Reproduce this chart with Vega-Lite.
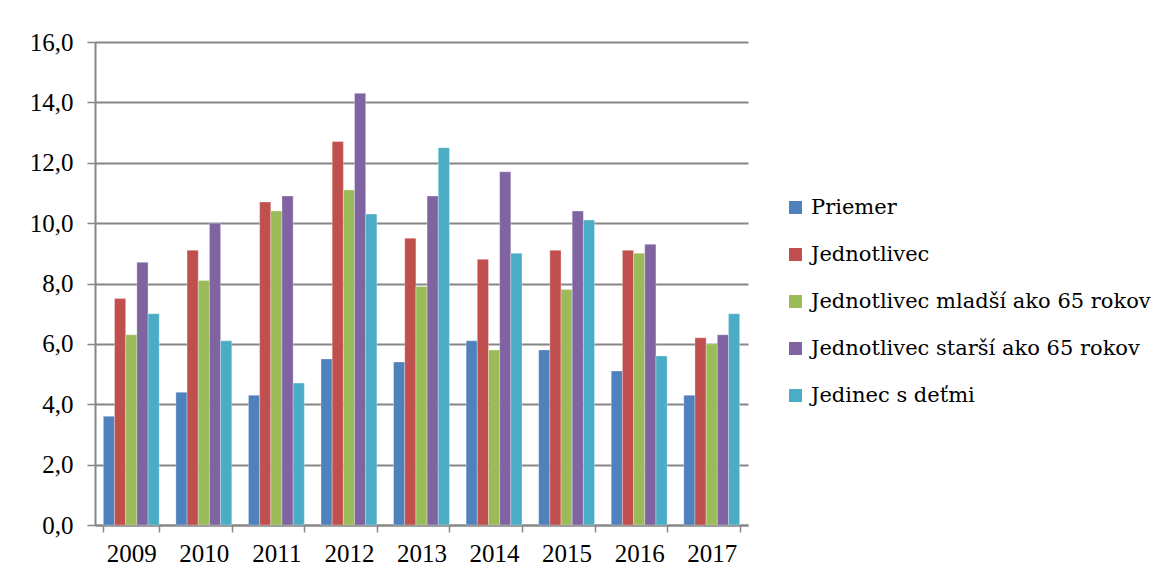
{
  "$schema": "https://vega.github.io/schema/vega-lite/v6.json",
  "width": 653,
  "height": 483,
  "autosize": {"type": "none"},
  "padding": {"left": 95, "top": 42, "right": 422, "bottom": 56},
  "background": "white",
  "config": {
    "locale": {"number": {"decimal": ",", "thousands": " ", "grouping": [3], "currency": ["", " €"]}},
    "view": {"stroke": null},
    "font": "Liberation Serif"
  },
  "data": {
    "values": [
      {"rok": "2009", "skupina": "Priemer", "hodnota": 3.6},
      {"rok": "2009", "skupina": "Jednotlivec", "hodnota": 7.5},
      {"rok": "2009", "skupina": "Jednotlivec mladší ako 65 rokov", "hodnota": 6.3},
      {"rok": "2009", "skupina": "Jednotlivec starší ako 65 rokov", "hodnota": 8.7},
      {"rok": "2009", "skupina": "Jedinec s deťmi", "hodnota": 7.0},
      {"rok": "2010", "skupina": "Priemer", "hodnota": 4.4},
      {"rok": "2010", "skupina": "Jednotlivec", "hodnota": 9.1},
      {"rok": "2010", "skupina": "Jednotlivec mladší ako 65 rokov", "hodnota": 8.1},
      {"rok": "2010", "skupina": "Jednotlivec starší ako 65 rokov", "hodnota": 10.0},
      {"rok": "2010", "skupina": "Jedinec s deťmi", "hodnota": 6.1},
      {"rok": "2011", "skupina": "Priemer", "hodnota": 4.3},
      {"rok": "2011", "skupina": "Jednotlivec", "hodnota": 10.7},
      {"rok": "2011", "skupina": "Jednotlivec mladší ako 65 rokov", "hodnota": 10.4},
      {"rok": "2011", "skupina": "Jednotlivec starší ako 65 rokov", "hodnota": 10.9},
      {"rok": "2011", "skupina": "Jedinec s deťmi", "hodnota": 4.7},
      {"rok": "2012", "skupina": "Priemer", "hodnota": 5.5},
      {"rok": "2012", "skupina": "Jednotlivec", "hodnota": 12.7},
      {"rok": "2012", "skupina": "Jednotlivec mladší ako 65 rokov", "hodnota": 11.1},
      {"rok": "2012", "skupina": "Jednotlivec starší ako 65 rokov", "hodnota": 14.3},
      {"rok": "2012", "skupina": "Jedinec s deťmi", "hodnota": 10.3},
      {"rok": "2013", "skupina": "Priemer", "hodnota": 5.4},
      {"rok": "2013", "skupina": "Jednotlivec", "hodnota": 9.5},
      {"rok": "2013", "skupina": "Jednotlivec mladší ako 65 rokov", "hodnota": 7.9},
      {"rok": "2013", "skupina": "Jednotlivec starší ako 65 rokov", "hodnota": 10.9},
      {"rok": "2013", "skupina": "Jedinec s deťmi", "hodnota": 12.5},
      {"rok": "2014", "skupina": "Priemer", "hodnota": 6.1},
      {"rok": "2014", "skupina": "Jednotlivec", "hodnota": 8.8},
      {"rok": "2014", "skupina": "Jednotlivec mladší ako 65 rokov", "hodnota": 5.8},
      {"rok": "2014", "skupina": "Jednotlivec starší ako 65 rokov", "hodnota": 11.7},
      {"rok": "2014", "skupina": "Jedinec s deťmi", "hodnota": 9.0},
      {"rok": "2015", "skupina": "Priemer", "hodnota": 5.8},
      {"rok": "2015", "skupina": "Jednotlivec", "hodnota": 9.1},
      {"rok": "2015", "skupina": "Jednotlivec mladší ako 65 rokov", "hodnota": 7.8},
      {"rok": "2015", "skupina": "Jednotlivec starší ako 65 rokov", "hodnota": 10.4},
      {"rok": "2015", "skupina": "Jedinec s deťmi", "hodnota": 10.1},
      {"rok": "2016", "skupina": "Priemer", "hodnota": 5.1},
      {"rok": "2016", "skupina": "Jednotlivec", "hodnota": 9.1},
      {"rok": "2016", "skupina": "Jednotlivec mladší ako 65 rokov", "hodnota": 9.0},
      {"rok": "2016", "skupina": "Jednotlivec starší ako 65 rokov", "hodnota": 9.3},
      {"rok": "2016", "skupina": "Jedinec s deťmi", "hodnota": 5.6},
      {"rok": "2017", "skupina": "Priemer", "hodnota": 4.3},
      {"rok": "2017", "skupina": "Jednotlivec", "hodnota": 6.2},
      {"rok": "2017", "skupina": "Jednotlivec mladší ako 65 rokov", "hodnota": 6.0},
      {"rok": "2017", "skupina": "Jednotlivec starší ako 65 rokov", "hodnota": 6.3},
      {"rok": "2017", "skupina": "Jedinec s deťmi", "hodnota": 7.0}
    ]
  },
  "mark": {"type": "bar", "stroke": "white", "strokeWidth": 0.5, "strokeOpacity": 0.6},
  "encoding": {
    "x": {
      "field": "rok", "type": "nominal", "title": null,
      "scale": {"paddingInner": 0.23, "paddingOuter": 0.115},
      "axis": {
        "labelAngle": 0, "labelFont": "Liberation Serif", "labelFontSize": 25, "labelColor": "black",
        "labelPadding": 9, "tickBand": "extent", "tickSize": 7, "tickColor": "#868686", "tickWidth": 1.5,
        "domainColor": "#868686", "domainWidth": 2, "grid": false
      }
    },
    "xOffset": {
      "field": "skupina", "type": "nominal",
      "sort": ["Priemer", "Jednotlivec", "Jednotlivec mladší ako 65 rokov", "Jednotlivec starší ako 65 rokov", "Jedinec s deťmi"],
      "scale": {"paddingInner": 0, "paddingOuter": 0}
    },
    "y": {
      "field": "hodnota", "type": "quantitative", "title": null,
      "scale": {"domain": [0, 16], "nice": false},
      "axis": {
        "values": [0, 2, 4, 6, 8, 10, 12, 14, 16], "format": ".1f",
        "labelFont": "Liberation Serif", "labelFontSize": 25, "labelColor": "black", "labelPadding": 14,
        "tickSize": 8, "tickColor": "#868686", "tickWidth": 1.5,
        "domainColor": "#868686", "domainWidth": 2,
        "grid": true, "gridColor": "#868686", "gridWidth": 1.8
      }
    },
    "color": {
      "field": "skupina", "type": "nominal",
      "scale": {
        "domain": ["Priemer", "Jednotlivec", "Jednotlivec mladší ako 65 rokov", "Jednotlivec starší ako 65 rokov", "Jedinec s deťmi"],
        "range": ["#4F81BD", "#C0504D", "#9BBB59", "#8064A2", "#4BACC6"]
      },
      "legend": {
        "title": null, "orient": "none", "legendX": 690, "legendY": 155,
        "symbolType": "square", "symbolSize": 170, "symbolStrokeWidth": 0,
        "labelFont": "DejaVu Serif", "labelFontSize": 21, "labelColor": "black",
        "labelOffset": 5, "rowPadding": 25, "labelLimit": 460
      }
    }
  }
}
